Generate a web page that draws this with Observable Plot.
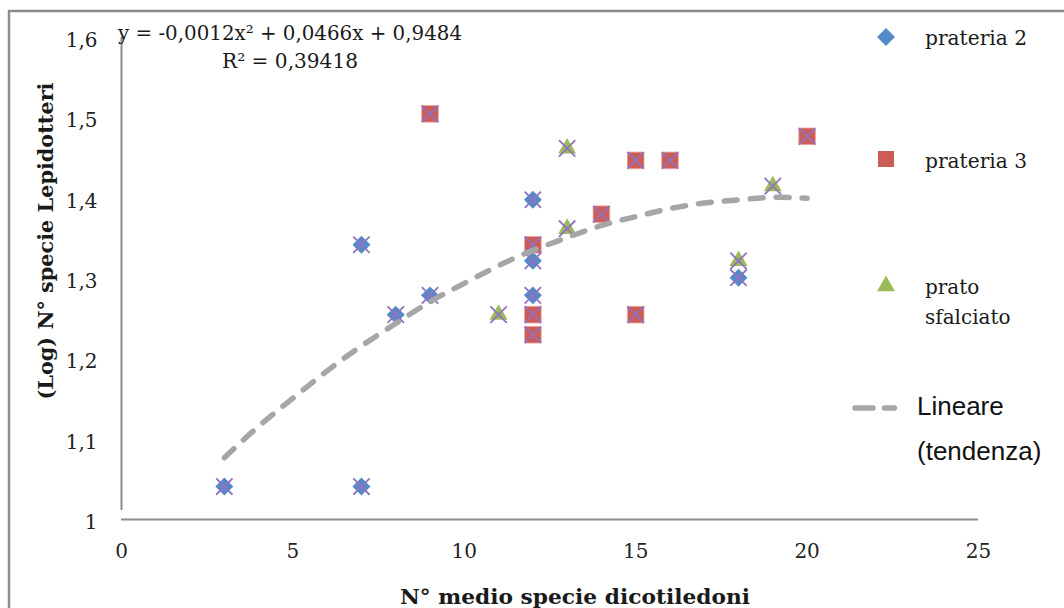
<!DOCTYPE html>
<html>
<head>
<meta charset="utf-8">
<script src="https://cdn.jsdelivr.net/npm/d3@7"></script>
<script src="https://cdn.jsdelivr.net/npm/@observablehq/plot@0.6"></script>
<style>
  html, body { margin: 0; padding: 0; background: #fff; }
  #wrap { position: relative; width: 1064px; height: 608px; overflow: hidden; background: #fff; }
  #wrap svg { display: block; }
  #overlay { position: absolute; left: 0; top: 0; pointer-events: none; }
</style>
</head>
<body>
<div id="wrap"></div>
<script>
// ---- data ----
const prateria2X = [3, 7, 7, 8, 9, 12, 12, 12, 18];
const prateria2Y = [1.041, 1.041, 1.342, 1.255, 1.279, 1.398, 1.322, 1.279, 1.301];
const prateria3X = [9, 12, 12, 12, 14, 15, 16, 15, 20];
const prateria3Y = [1.505, 1.342, 1.255, 1.230, 1.380, 1.447, 1.447, 1.255, 1.477];
const pratoX = [11, 13, 13, 18, 19];
const pratoY = [1.255, 1.462, 1.362, 1.322, 1.415];
const trendX = [3, 4, 5, 6, 7, 8, 9, 10, 11, 12, 13, 14, 15, 16, 17, 18, 19, 20];
const trendY = [1.077, 1.116, 1.151, 1.185, 1.216, 1.244, 1.271, 1.294, 1.316, 1.335, 1.351, 1.366, 1.377, 1.387, 1.394, 1.398, 1.401, 1.400];
const xTicks = [0, 5, 10, 15, 20, 25];
const yTicks = [1, 1.1, 1.2, 1.3, 1.4, 1.5, 1.6];
const yTickLabels = ["1", "1,1", "1,2", "1,3", "1,4", "1,5", "1,6"];
const seriesNames = ["prateria 2", "prateria 3", "prato", "sfalciato"];
const trendName = ["Lineare", "(tendenza)"];
const xTitle = "N° medio specie dicotiledoni";
const yTitle = "(Log) N° specie Lepidotteri";
const equation = "y = -0,0012x² + 0,0466x + 0,9484";
const r2Text = "R² = 0,39418";

const blue = "#5689c8", red = "#cd5c57", green = "#9bbb59", purple = "#9271c0", trendGray = "#a6a6a6";

const toRows = (xs, ys) => xs.map((x, i) => ({x, y: ys[i]}));
const p2 = toRows(prateria2X, prateria2Y);
const p3 = toRows(prateria3X, prateria3Y);
const ps = toRows(pratoX, pratoY);
const all = p2.concat(p3, ps);
const trend = toRows(trendX, trendY);

const chart = Plot.plot({
  width: 1064,
  height: 608,
  marginLeft: 121,
  marginRight: 86,
  marginTop: 37,
  marginBottom: 89,
  style: {fontFamily: "'DejaVu Serif', serif", fontSize: "20px", color: "#222", background: "transparent"},
  x: {domain: [0, 25]},
  y: {domain: [1, 1.6]},
  marks: [
    Plot.axisX({ticks: xTicks, tickSize: 0, tickPadding: 24, label: null, fontSize: 20}),
    Plot.axisY({ticks: yTicks, tickSize: 0, tickPadding: 24, label: null, fontSize: 20, dy: 3,
      tickFormat: d => yTickLabels[yTicks.findIndex(t => Math.abs(t - d) < 1e-9)]}),
    Plot.ruleY([1], {stroke: "#8c8c8c", strokeWidth: 2.2}),
    Plot.ruleX([0], {y1: 1, y2: 1.6, stroke: "#8c8c8c", strokeWidth: 2, insetTop: -9}),
    Plot.dot(p2, {x: "x", y: "y", symbol: "diamond2", r: 8.1, fill: blue, stroke: "none"}),
    Plot.dot(p3, {x: "x", y: "y", symbol: "square", r: 9.4, fill: red, stroke: "#e8a9a6", strokeWidth: 0.8}),
    Plot.dot(ps, {x: "x", y: "y", symbol: "triangle", r: 6.7, fill: green, stroke: "none"}),
    Plot.dot(all, {x: "x", y: "y", symbol: "times", r: 7.5, stroke: purple, strokeWidth: 1.8, fill: "none"}),
    Plot.line(trend, {x: "x", y: "y", stroke: trendGray, strokeWidth: 5.5, strokeDasharray: "13,13",
      strokeLinecap: "round", curve: "natural"})
  ]
});
const wrap = document.getElementById("wrap");
wrap.appendChild(chart);

// ---- overlay: frame, titles, equation, legend ----
const ns = "http://www.w3.org/2000/svg";
const ov = d3.select(wrap).append("svg").attr("id", "overlay").attr("width", 1064).attr("height", 608);

ov.append("path").attr("d", "M9,620 L9,11 L1070,11").attr("fill", "none")
  .attr("stroke", "#8c8c8c").attr("stroke-width", 2.5);

const serif = "'DejaVu Serif', serif";
const sans = "'Liberation Sans', Arial, sans-serif";

function txt(s, x, y, opts = {}) {
  const t = ov.append("text").attr("x", x).attr("y", y).text(s)
    .attr("font-family", opts.family || serif)
    .attr("font-size", opts.size || 20)
    .attr("font-weight", opts.weight || "normal")
    .attr("fill", opts.fill || "#1a1a1a")
    .attr("text-anchor", opts.anchor || "start")
    .attr("dominant-baseline", "central");
  if (opts.len) t.attr("textLength", opts.len).attr("lengthAdjust", "spacingAndGlyphs");
  if (opts.rotate) t.attr("transform", `rotate(${opts.rotate},${x},${y})`);
  return t;
}

// equation
txt(equation, 290, 33, {anchor: "middle", len: 344});
txt(r2Text, 290, 61, {anchor: "middle", len: 136});

// axis titles
txt(xTitle, 575, 596, {anchor: "middle", weight: "bold", size: 21, len: 350});
txt(yTitle, 45, 241, {anchor: "middle", weight: "bold", size: 21, len: 317, rotate: -90});

// legend markers
ov.append("path").attr("d", d3.symbol(d3.symbolDiamond2, 206)()).attr("transform", "translate(886,37)").attr("fill", blue);
ov.append("path").attr("d", d3.symbol(d3.symbolSquare, 256)()).attr("transform", "translate(886,159)").attr("fill", red);
ov.append("path").attr("d", d3.symbol(d3.symbolTriangle, 140)()).attr("transform", "translate(886,286)").attr("fill", green);
ov.append("path").attr("d", "M855,408 L873,408 M884.5,408 L894.5,408").attr("stroke", trendGray)
  .attr("stroke-width", 5.5).attr("stroke-linecap", "round").attr("fill", "none");

// legend labels
txt(seriesNames[0], 925, 38, {len: 102});
txt(seriesNames[1], 925, 161, {len: 102});
txt(seriesNames[2], 925, 287);
txt(seriesNames[3], 925, 317);
txt(trendName[0], 917, 406, {family: sans, size: 26, fill: "#111"});
txt(trendName[1], 917, 451, {family: sans, size: 26, fill: "#111"});
</script>
</body>
</html>
